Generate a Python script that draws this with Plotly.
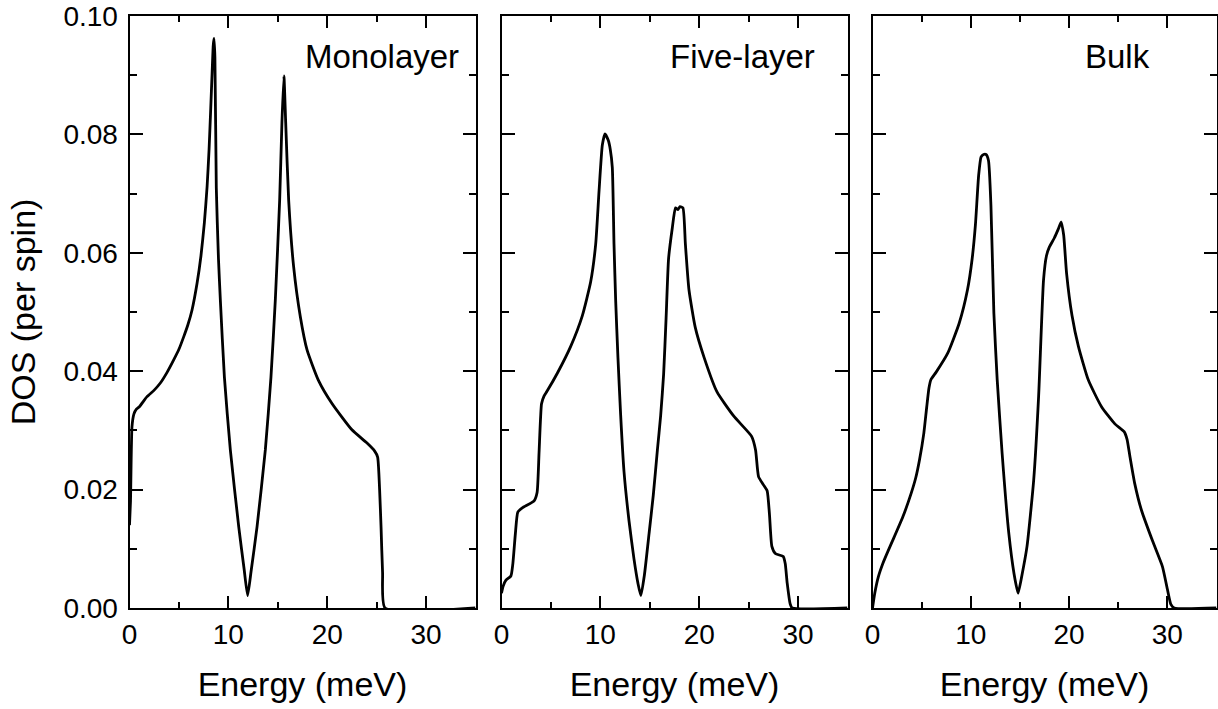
import plotly.graph_objects as go

# ---------------- data ----------------
mono_E = [0, 0.1, 0.25, 0.45, 0.7, 1.0, 1.77, 2.5, 3.12, 3.8, 4.47, 5.0, 5.48, 5.9, 6.32, 6.83,
          7.23, 7.57, 7.85, 8.05, 8.22, 8.36, 8.47, 8.55, 8.64, 8.78, 9.0, 9.19, 9.6, 10.2, 11.05,
          11.6, 11.95, 12.3, 12.9, 13.74, 14.31, 14.75, 15.19, 15.42, 15.62, 15.8, 16.1, 16.6,
          17.28, 17.96, 19.1, 20.5, 22.5, 24.0, 24.8, 25.1, 25.3, 25.45, 25.6, 25.85, 35]
mono_D = [0.014, 0.018, 0.0306, 0.0328, 0.0336, 0.034, 0.0357, 0.0368, 0.038, 0.0398, 0.0419,
          0.0437, 0.0458, 0.0478, 0.0503, 0.0548, 0.0595, 0.065, 0.0712, 0.0775, 0.0845, 0.0905,
          0.095, 0.0962, 0.093, 0.071, 0.059, 0.052, 0.039, 0.0267, 0.0137, 0.0065, 0.0021, 0.0062,
          0.0137, 0.0267, 0.039, 0.052, 0.0689, 0.082, 0.0899, 0.082, 0.0689, 0.0577, 0.0492,
          0.0436, 0.0385, 0.0345, 0.0301, 0.0279, 0.0265, 0.0255, 0.02, 0.0135, 0.006, 0.0, 0.0]

five_E = [0, 0.17, 0.45, 0.95, 1.15, 1.4, 1.65, 2.1, 3.3, 3.6, 3.8, 4.05, 4.3, 4.6, 5.66, 7.0, 8.18,
          9.02, 9.53, 9.87, 10.2, 10.47, 10.8, 11.0, 11.21, 11.38, 11.55, 11.78, 12.05, 12.39, 12.9,
          13.4, 13.8, 14.1, 14.45, 14.93, 15.35, 15.77, 16.1, 16.4, 16.65, 16.9, 17.27, 17.6, 17.85,
          18.05, 18.35, 18.6, 18.96, 19.6, 20.5, 21.8, 23.5, 25.3, 25.7, 26.0, 26.5, 26.87, 27.1,
          27.35, 27.7, 28.5, 28.7, 28.9, 29.2, 29.4, 35]
five_D = [0.0025, 0.0037, 0.0047, 0.0054, 0.0075, 0.0125, 0.0162, 0.0169, 0.0181, 0.0195, 0.0263,
          0.0345, 0.0358, 0.0366, 0.0397, 0.0442, 0.0494, 0.0551, 0.0615, 0.0705, 0.0782, 0.0801,
          0.079, 0.0775, 0.0744, 0.0615, 0.0519, 0.0423, 0.0327, 0.0231, 0.0147, 0.0083, 0.0042,
          0.0021, 0.0055, 0.0126, 0.019, 0.0267, 0.0325, 0.0395, 0.049, 0.059, 0.0641, 0.0676,
          0.0673, 0.0678, 0.0676, 0.0615, 0.0538, 0.0474, 0.0423, 0.0365, 0.0324, 0.029, 0.0267,
          0.0222, 0.0208, 0.0198, 0.016, 0.0104, 0.0092, 0.0087, 0.0075, 0.0042, 0.0007, 0, 0]

bulk_E = [0, 0.23, 0.6, 1.07, 1.6, 2.08, 3.09, 3.94, 4.4, 4.78, 5.22, 5.52, 5.75, 5.95, 6.46, 7.64,
          8.82, 9.66, 10.14, 10.47, 10.8, 11.05, 11.3, 11.55, 11.8, 12.05, 12.35, 12.69, 13.19,
          13.87, 14.4, 14.81, 15.2, 15.72, 16.4, 16.9, 17.4, 17.7, 18.0, 18.5, 18.9, 19.2, 19.45,
          19.75, 20.3, 20.95, 21.96, 23.3, 24.66, 25.6, 25.9, 26.2, 26.67, 27.35, 28.5, 29.5, 30.0,
          30.36, 30.7, 35]
bulk_D = [0, 0.0025, 0.0053, 0.0076, 0.0097, 0.0115, 0.0154, 0.0194, 0.022, 0.025, 0.0295, 0.034,
          0.0372, 0.0386, 0.0398, 0.043, 0.0481, 0.0537, 0.059, 0.0647, 0.0731, 0.0762, 0.0766,
          0.0766, 0.0756, 0.068, 0.0498, 0.0385, 0.0261, 0.0126, 0.0058, 0.0025, 0.0055, 0.0104,
          0.0216, 0.0357, 0.0554, 0.0595, 0.061, 0.0625, 0.064, 0.0652, 0.063, 0.0565, 0.0494,
          0.0442, 0.0385, 0.034, 0.0311, 0.0298, 0.0285, 0.0255, 0.0211, 0.0166, 0.0113, 0.007,
          0.0032, 0.0006, 0, 0]

panel_names = ["Monolayer", "Five-layer", "Bulk"]
x_title = "Energy (meV)"
y_title = "DOS (per spin)"
x_ticks = [0, 10, 20, 30]
y_ticks = [0.00, 0.02, 0.04, 0.06, 0.08, 0.10]

# ---------------- layout geometry ----------------
W, H = 1218, 709
panels_px = [(129.5, 475.5), (501.5, 847.5), (872.5, 1216.5)]
y_top, y_bot = 16, 608
ydom = [(H - y_bot) / H, (H - y_top) / H]
label_pos = [(461, 57), (817, 57), (1152, 57)]

FONT = "Liberation Sans, Arial, sans-serif"

fig = go.Figure()
series = [(mono_E, mono_D), (five_E, five_D), (bulk_E, bulk_D)]
for i, (e, d) in enumerate(series):
    sfx = "" if i == 0 else str(i + 1)
    fig.add_trace(go.Scatter(
        x=e, y=d, mode="lines",
        line=dict(color="black", width=2.8, shape="spline", smoothing=0.5),
        xaxis="x" + sfx, yaxis="y" + sfx, showlegend=False, hoverinfo="skip"))

layout = dict(
    width=W, height=H, margin=dict(l=0, r=0, t=0, b=0),
    paper_bgcolor="white", plot_bgcolor="white",
    font=dict(family=FONT, color="black"),
)
annotations = []
for i, (x0, x1) in enumerate(panels_px):
    sfx = "" if i == 0 else str(i + 1)
    layout["xaxis" + sfx] = dict(
        domain=[x0 / W, x1 / W], anchor="y" + sfx, range=[0, 35],
        tickvals=x_ticks, ticks="inside", ticklen=12, tickwidth=2, tickcolor="black",
        minor=dict(dtick=5, tick0=0, ticks="inside", ticklen=6, tickwidth=2, tickcolor="black"),
        showline=True, linewidth=2, linecolor="black", mirror="allticks",
        showgrid=False, zeroline=False, automargin=False,
        tickfont=dict(size=28, family=FONT),
        title=dict(text=x_title, font=dict(size=34, family=FONT), standoff=24),
    )
    layout["yaxis" + sfx] = dict(
        domain=ydom, anchor="x" + sfx, range=[0, 0.1],
        tickvals=y_ticks, tickformat=".2f", ticks="inside", ticklen=13, tickwidth=2,
        tickcolor="black",
        minor=dict(dtick=0.01, tick0=0, ticks="inside", ticklen=7, tickwidth=2, tickcolor="black"),
        showline=True, linewidth=2, linecolor="black", mirror="allticks",
        showgrid=False, zeroline=False, automargin=False,
        showticklabels=(i == 0), ticklabelstandoff=4,
        tickfont=dict(size=28, family=FONT),
    )
    lx, ly = label_pos[i]
    annotations.append(dict(
        text=panel_names[i], xref="paper", yref="paper",
        x=lx / W, y=(H - ly) / H, xanchor="right", yanchor="middle",
        showarrow=False, font=dict(size=33, family=FONT, color="black")))

layout["yaxis"]["title"] = dict(text=y_title, font=dict(size=34, family=FONT), standoff=18)
layout["annotations"] = annotations
fig.update_layout(**layout)

fig.write_html("out.html", config={"displayModeBar": False},
               post_script="document.body.style.margin='0';document.body.style.overflow='hidden';")
